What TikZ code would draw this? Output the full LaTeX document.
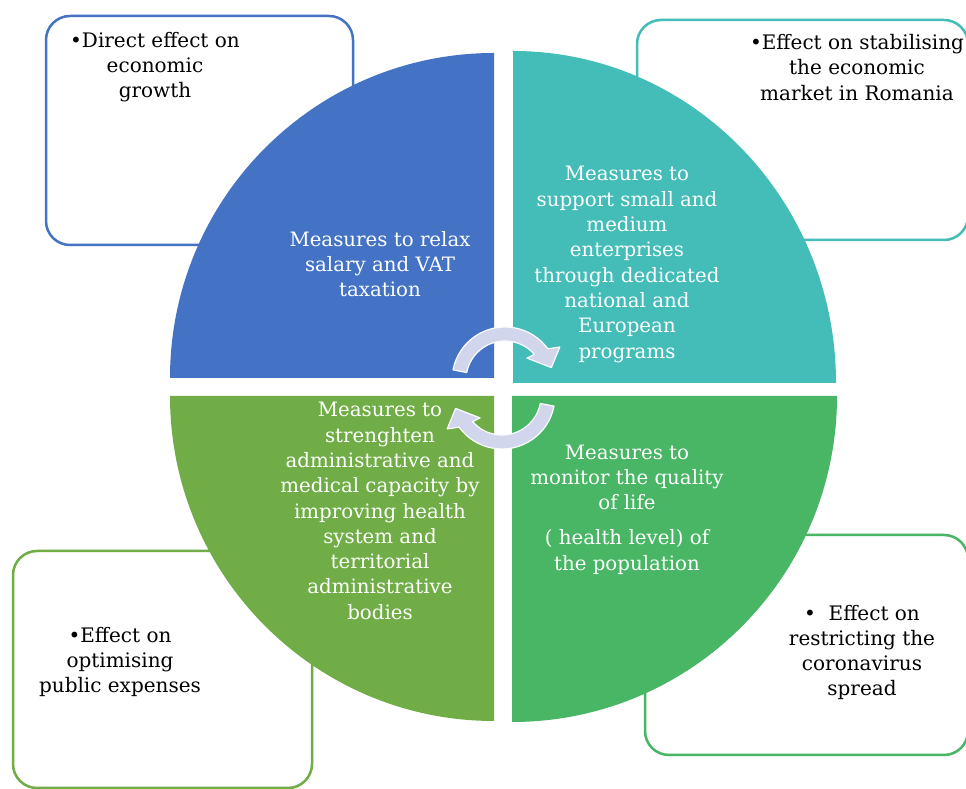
\documentclass[tikz,border=0pt]{standalone}
\usepackage{fontspec}
\setmainfont{DejaVu Serif}
\definecolor{qblue}{HTML}{4472C4}
\definecolor{qteal}{HTML}{44BDB8}
\definecolor{qolive}{HTML}{70AD47}
\definecolor{qgreen}{HTML}{48B664}
\definecolor{arrowfill}{HTML}{D2D6EC}
\tikzset{
  effbox/.style={line width=2.5pt, rounded corners=24pt, fill=white},
  efftext/.style={align=center, text=black, inner sep=0pt, font=\fontsize{20}{25.2}\selectfont},
  quadtext/.style={align=center, text=white, inner sep=0pt, font=\fontsize{19.8}{25.3}\selectfont},
  cycarrow/.style={fill=arrowfill, draw=white!92!arrowfill, line width=1.2pt, line join=round},
  cyc/.pic={
    \filldraw[cycarrow] (169:53) arc[start angle=169, end angle=36, radius=53]
      -- (31:64) -- (15:48) -- (45:31) -- (41:39)
      arc[start angle=41, end angle=169, radius=39] -- cycle;
  }
}
\begin{document}
\begin{tikzpicture}[x=1pt,y=1pt]
\useasboundingbox (0,0) rectangle (966,789);
\clip (0,0) rectangle (966,789);
\fill[white] (0,0) rectangle (966,789);

% effect boxes (behind the circle)
\draw[effbox, draw=qblue]  (46,544) rectangle (353,773);
\draw[effbox, draw=qteal]  (637,549) rectangle (968,769);
\draw[effbox, draw=qolive] (13,1) rectangle (312,238);
\draw[effbox, draw=qgreen] (645,34) rectangle (968,254);

% quadrants
\fill[qblue]  (494,411) -- (170,411) arc[start angle=180, end angle=90, x radius=324, y radius=325] -- cycle;
\fill[qteal]  (513,406) -- (513,738) arc[start angle=90, end angle=0, x radius=323, y radius=332] -- cycle;
\fill[qolive] (494,393) -- (170,393) arc[start angle=180, end angle=270, x radius=324, y radius=325] -- cycle;
\fill[qgreen] (512,393) -- (837,393) arc[start angle=0, end angle=-90, x radius=325, y radius=326] -- cycle;

% circular arrows
\pic at (505,409) {cyc};
\pic[rotate=180] at (502,393) {cyc};

% quadrant texts
\node[quadtext] (relax) at (380,525) {Measures to relax\\salary and VAT\\taxation};
\node[quadtext] (sme) at (627,524.5) {Measures to\\support small and\\medium\\enterprises\\through dedicated\\national and\\European\\programs};
\node[quadtext] (admin) at (380,278) {Measures to\\strenghten\\administrative and\\medical capacity by\\improving health\\system and\\territorial\\administrative\\bodies};
\node[quadtext] (life) at (627,279.5) {Measures to\\monitor the quality\\of life\\[10pt]( health level) of\\the population};

% effect texts
\node[efftext] (growth) at (155,722) {•Direct effect on\\economic\\growth};
\node[efftext] (market) at (857,721.5) {•Effect on stabilising\\the economic\\market in Romania};
\node[efftext] (expenses) at (120,127) {•Effect on\\optimising\\public expenses};
\node[efftext] (corona) at (862,136.5) {•\ \ Effect on\\restricting the\\coronavirus\\spread};
\end{tikzpicture}
\end{document}
